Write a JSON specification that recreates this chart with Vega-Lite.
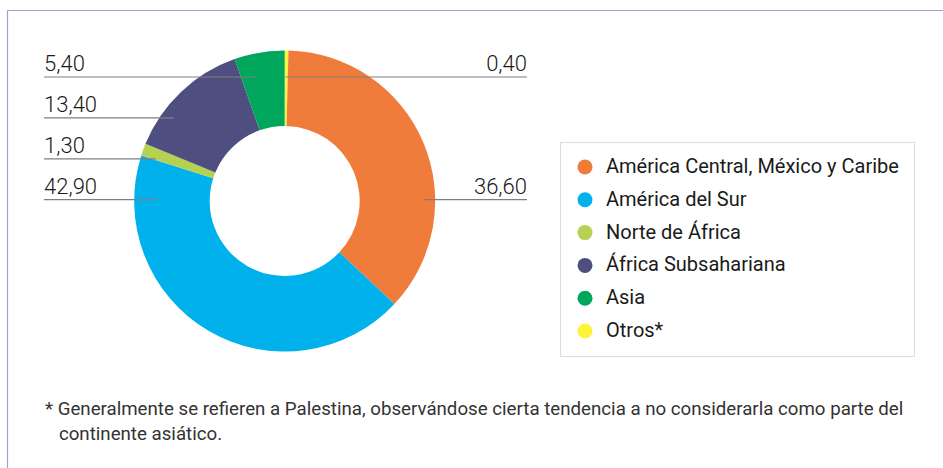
{
  "$schema": "https://vega.github.io/schema/vega-lite/v6.json",
  "width": 936,
  "height": 458,
  "autosize": {"type": "none"},
  "padding": {"left": 7, "top": 10, "right": 0, "bottom": 0},
  "background": "white",
  "data": {
    "values": [
      {"region": "Otros*", "value": 0.4, "ord": 1, "lado": "der", "fila": 1, "lx": 0.007},
      {"region": "América Central, México y Caribe", "value": 36.6, "ord": 2, "lado": "der", "fila": 4, "lx": 0.923},
      {"region": "América del Sur", "value": 42.9, "ord": 3, "lado": "izq", "fila": 4, "lx": -0.844},
      {"region": "Norte de África", "value": 1.3, "ord": 4, "lado": "izq", "fila": 3, "lx": -0.855},
      {"region": "África Subsahariana", "value": 13.4, "ord": 5, "lado": "izq", "fila": 2, "lx": -0.736},
      {"region": "Asia", "value": 5.4, "ord": 6, "lado": "izq", "fila": 1, "lx": -0.187}
    ]
  },
  "title": {
    "text": ["* Generalmente se refieren a Palestina, observándose cierta tendencia a no considerarla como parte del", "\u200b\u00a0\u00a0\u00a0continente asiático."],
    "orient": "bottom",
    "anchor": "start",
    "frame": "group",
    "offset": -53,
    "baseline": "alphabetic",
    "dx": 38,
    "font": "Roboto",
    "fontSize": 18.7,
    "fontWeight": "normal",
    "color": "#333333",
    "lineHeight": 25
  },
  "resolve": {"scale": {"y": "independent"}},
  "layer": [
    {
      "mark": {"type": "arc", "outerRadius": 150.5, "innerRadius": 75},
      "encoding": {
        "x": {"datum": 0, "type": "quantitative", "scale": {"domain": [-1.845, 4.374], "zero": false, "nice": false}, "axis": {"orient": "top", "labels": false, "ticks": false, "grid": false, "title": null, "domainColor": "#a6a1cc", "domainWidth": 1.2}},
        "y": {"datum": 0, "type": "quantitative", "scale": {"domain": [-1.774, 1.269], "zero": false, "nice": false}, "axis": null},
        "theta": {"field": "value", "type": "quantitative", "stack": true},
        "order": {"field": "ord", "type": "quantitative"},
        "color": {
          "field": "region",
          "type": "nominal",
          "scale": {
            "domain": ["América Central, México y Caribe", "América del Sur", "Norte de África", "África Subsahariana", "Asia", "Otros*"],
            "range": ["#F07C3C", "#00B1EB", "#B6D052", "#4E4F80", "#00A65B", "#FFF23C"]
          },
          "legend": {
            "orient": "none",
            "legendX": 553,
            "legendY": 132,
            "title": null,
            "symbolType": "circle",
            "symbolSize": 225,
            "symbolStrokeWidth": 0,
            "labelFont": "Roboto",
            "labelFontSize": 20,
            "labelColor": "#1a1a1a",
            "labelLimit": 400,
            "labelOffset": 11,
            "rowPadding": 12.8,
            "padding": 15,
            "strokeColor": "#dcdcdc",
            "fillColor": "white"
          }
        }
      }
    },
    {
      "layer": [
        {
          "transform": [{"filter": "datum.lado === 'izq'"}],
          "mark": {"type": "rule", "color": "#7f7f7f", "strokeWidth": 1.2},
          "encoding": {
            "x": {"field": "lx", "type": "quantitative", "scale": {"domain": [-1.845, 4.374], "zero": false, "nice": false}, "axis": {"orient": "top", "labels": false, "ticks": false, "grid": false, "title": null, "domainColor": "#a6a1cc", "domainWidth": 1.2}},
            "x2": {"datum": -1.599},
            "y": {"field": "fila", "type": "quantitative", "scale": {"domain": [-0.638, 10.56], "reverse": true, "zero": false, "nice": false}, "axis": {"orient": "left", "labels": false, "ticks": false, "grid": false, "title": null, "domainColor": "#a6a1cc", "domainWidth": 1.2}}
          }
        },
        {
          "transform": [{"filter": "datum.lado === 'der'"}],
          "mark": {"type": "rule", "color": "#7f7f7f", "strokeWidth": 1.2},
          "encoding": {
            "x": {"field": "lx", "type": "quantitative"},
            "x2": {"datum": 1.61},
            "y": {"field": "fila", "type": "quantitative"}
          }
        },
        {
          "transform": [{"filter": "datum.lado === 'izq'"}],
          "mark": {"type": "text", "align": "left", "baseline": "alphabetic", "dy": -5.5, "font": "Roboto", "fontSize": 22, "fontWeight": 300, "color": "#1a1a1a"},
          "encoding": {
            "x": {"datum": -1.599, "type": "quantitative"},
            "y": {"field": "fila", "type": "quantitative"},
            "text": {"field": "value", "type": "quantitative", "format": ".2f"}
          }
        },
        {
          "transform": [{"filter": "datum.lado === 'der'"}],
          "mark": {"type": "text", "align": "right", "baseline": "alphabetic", "dy": -5.5, "font": "Roboto", "fontSize": 22, "fontWeight": 300, "color": "#1a1a1a"},
          "encoding": {
            "x": {"datum": 1.61, "type": "quantitative"},
            "y": {"field": "fila", "type": "quantitative"},
            "text": {"field": "value", "type": "quantitative", "format": ".2f"}
          }
        }
      ]
    }
  ],
  "config": {
    "view": {"stroke": null},
    "locale": {"number": {"decimal": ",", "thousands": ".", "grouping": [3], "currency": ["", " €"]}}
  }
}
